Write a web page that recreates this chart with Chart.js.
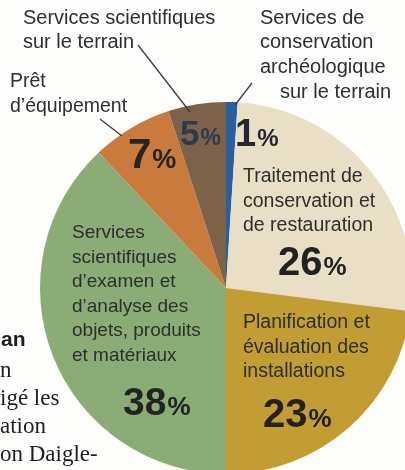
<!DOCTYPE html>
<html lang="fr">
<head>
<meta charset="utf-8">
<script src="https://cdn.jsdelivr.net/npm/chart.js@4.4.1/dist/chart.umd.min.js"></script>
<style>
  html, body { margin: 0; padding: 0; background: #fdfdfb; overflow: hidden; }
  #wrap { position: absolute; left: 0; top: 0; width: 430px; height: 480px; }
</style>
</head>
<body>
<div id="wrap"><canvas id="pie" width="430" height="480"></canvas></div>
<script>
// Data (percent of services)
const categories = [
    'Services de conservation archéologique sur le terrain',
    'Traitement de conservation et de restauration',
    'Planification et évaluation des installations',
    'Services scientifiques d’examen et d’analyse des objets, produits et matériaux',
    'Prêt d’équipement',
    'Services scientifiques sur le terrain'
];
const shares = [1, 26, 23, 38, 7, 5];
const sliceColors = ['#2a5f9e', '#e9dec6', '#c29d33', '#8bad75', '#c97a3d', '#7b6249'];

// Where each percentage sits [x, baseline y, number size, percent size, colour]
const pctPlaces = [
    [235, 146, 38, 24, '#25272e'],
    [278, 275, 40, 26, '#222222'],
    [263, 427, 40, 26, '#222222'],
    [123, 415, 39, 26, '#222222'],
    [128, 168, 42, 27, '#2a2420'],
    [180, 145, 35, 23, '#2b3a4c']
];

// Text blocks: [lines, x, first line y, line step, size]
const textBlocks = [
    [['Services scientifiques', 'sur le terrain'], 23, 18, 24, 20],
    [['Services de', 'conservation', 'archéologique'], 260, 18, 24.5, 20],
    [['sur le terrain'], 280, 92, 24, 20],
    [['Prêt', 'd’équipement'], 10, 82, 25, 19.5],
    [['Traitement de', 'conservation et', 'de restauration'], 243, 177, 24.5, 19.5],
    [['Planification et', 'évaluation des', 'installations'], 243, 323, 24.5, 19.5],
    [['Services', 'scientifiques', 'd’examen et', 'd’analyse des', 'objets, produits', 'et matériaux'], 72, 233, 24.5, 19]
];

const leaders = [
    [138, 45, 190, 112],
    [252, 83, 235, 105],
    [100, 119, 122, 136]
];

const labelsPlugin = {
    id: 'labels',
    afterDraw(chart) {
        const ctx = chart.ctx;
        ctx.save();

        // leader lines
        ctx.strokeStyle = '#3a3a3a';
        ctx.lineWidth = 1.3;
        leaders.forEach(l => {
            ctx.beginPath();
            ctx.moveTo(l[0], l[1]);
            ctx.lineTo(l[2], l[3]);
            ctx.stroke();
        });

        // category texts
        ctx.fillStyle = '#2e2e2e';
        ctx.textAlign = 'left';
        ctx.textBaseline = 'middle';
        textBlocks.forEach(b => {
            ctx.font = b[4] + 'px "Liberation Sans", Arial, sans-serif';
            b[0].forEach((line, i) => ctx.fillText(line, b[1], b[2] + i * b[3]));
        });

        // percentages from the data
        ctx.textBaseline = 'alphabetic';
        shares.forEach((v, i) => {
            const p = pctPlaces[i];
            ctx.fillStyle = p[4];
            ctx.font = 'bold ' + p[2] + 'px "Liberation Sans", Arial, sans-serif';
            const num = String(v);
            ctx.fillText(num, p[0], p[1]);
            const w = ctx.measureText(num).width;
            ctx.font = 'bold ' + p[3] + 'px "Liberation Sans", Arial, sans-serif';
            ctx.fillText('%', p[0] + w + 1, p[1]);
        });

        // bits of the article text beside the chart
        ctx.fillStyle = '#1e1e1e';
        ctx.textBaseline = 'middle';
        ctx.font = 'bold 21px "Liberation Sans", Arial, sans-serif';
        ctx.fillText('an', 1, 340);
        ctx.font = '23px "Liberation Serif", "DejaVu Serif", serif';
        ctx.fillText('n', 0, 371);
        ctx.fillText('igé les', 0, 399);
        ctx.fillText('ation', 0, 427);
        ctx.fillText('on Daigle-', 0, 455);

        ctx.restore();
    }
};

new Chart(document.getElementById('pie').getContext('2d'), {
    type: 'pie',
    data: {
        labels: categories,
        datasets: [{
            data: shares,
            backgroundColor: sliceColors,
            borderWidth: 0
        }]
    },
    options: {
        responsive: false,
        animation: false,
        layout: {
            padding: { left: 40, top: 102, right: 18, bottom: 6 }
        },
        plugins: {
            legend: { display: false },
            tooltip: { enabled: false }
        }
    },
    plugins: [labelsPlugin]
});
</script>
</body>
</html>
